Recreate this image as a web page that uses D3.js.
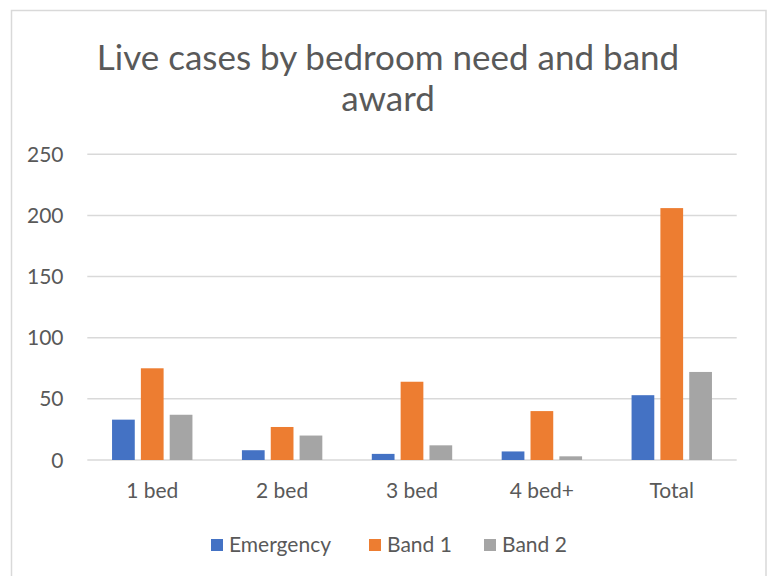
<!DOCTYPE html>
<html><head><meta charset="utf-8">
<script src="https://cdn.jsdelivr.net/npm/d3@7"></script>
<style>body{margin:0;background:#fff}svg{display:block}text{font-family:Lato,"Open Sans",sans-serif;fill:#595959}</style>
</head><body><svg id="c" width="771" height="576"></svg>
<script>
const categories = ["1 bed","2 bed","3 bed","4 bed+","Total"];
const seriesNames = ["Emergency","Band 1","Band 2"];
const emergency = [33, 8, 5, 7, 53];
const band1 = [75, 27, 64, 40, 206];
const band2 = [37, 20, 12, 3, 72];
const yTicks = [0, 50, 100, 150, 200, 250];
const colors = ["#4472C4","#ED7D31","#A5A5A5"];
const titleLines = ["Live cases by bedroom need and band","award"];

const series = [emergency, band1, band2];
const svg = d3.select("#c");
svg.append("rect").attr("x",11.5).attr("y",10.5).attr("width",754.5).attr("height",600)
  .attr("fill","#fff").attr("stroke","#d9d9d9").attr("stroke-width",1.5);

const x = d3.scaleBand().domain(categories).range([87.3, 736.7]);
const y = d3.scaleLinear().domain([0,250]).range([460,154.3]);
const bw = x.bandwidth();
const barW = bw*0.175, step = bw*0.222;

svg.append("g").selectAll("line").data(yTicks).join("line")
  .attr("x1",87.3).attr("x2",736.7).attr("y1",d=>y(d)).attr("y2",d=>y(d))
  .attr("stroke","#d9d9d9").attr("stroke-width",1.5);

svg.append("g").selectAll("text").data(yTicks).join("text")
  .attr("x",63.5).attr("y",d=>y(d)).attr("dy","0.36em").attr("text-anchor","end")
  .attr("font-size",21).text(d=>d);

series.forEach((vals,si)=>{
  svg.append("g").selectAll("rect").data(vals).join("rect")
    .attr("x",(d,i)=>x(categories[i])+bw/2+(si-1)*step-barW/2)
    .attr("width",barW)
    .attr("y",d=>y(d)).attr("height",d=>y(0)-y(d))
    .attr("fill",colors[si]);
});

svg.append("g").selectAll("text").data(categories).join("text")
  .attr("x",d=>x(d)+bw/2).attr("y",498).attr("text-anchor","middle")
  .attr("font-size",21).text(d=>d);

svg.append("g").selectAll("text").data(titleLines).join("text")
  .attr("x",388).attr("y",(d,i)=>70+i*41).attr("text-anchor","middle")
  .attr("font-size",35).text(d=>d);

const legX = [211, 369, 484];
const lg = svg.append("g");
seriesNames.forEach((n,i)=>{
  lg.append("rect").attr("x",legX[i]).attr("y",539).attr("width",12).attr("height",12).attr("fill",colors[i]);
  lg.append("text").attr("x",legX[i]+18).attr("y",552).attr("font-size",21).text(n);
});
</script></body></html>
